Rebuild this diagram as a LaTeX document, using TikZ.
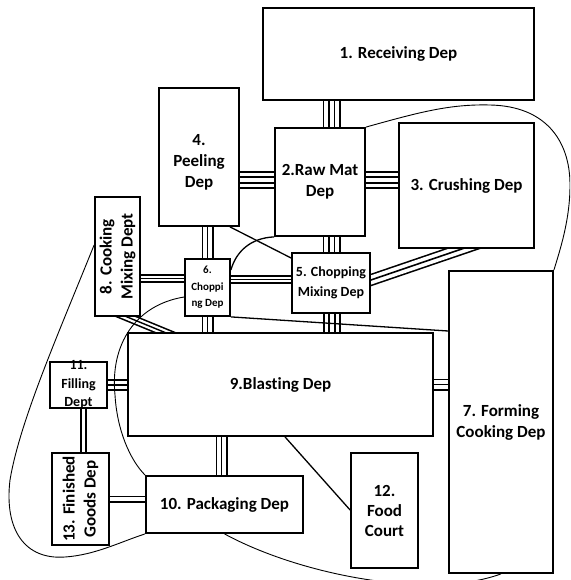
\documentclass[tikz,border=0pt]{standalone}
\usepackage{fontspec}
\setmainfont[Ligatures=NoCommon]{Carlito}
\usetikzlibrary{backgrounds,calc}

\tikzset{
  dep/.style={draw, line width=1.8pt, fill=white, inner sep=2pt, align=center,
    font=\bfseries\fontsize{17}{21}\selectfont},
  lbl/.style={inner sep=0pt, align=center, font=\bfseries\fontsize{17}{21}\selectfont},
  quadline/.style={line width=18pt, postaction={draw, white, line width=14.4pt},
    postaction={draw, black, line width=7.6pt}, postaction={draw, white, line width=4pt}},
  trioline/.style={line width=12pt, postaction={draw, white, line width=8.8pt},
    postaction={draw, black, line width=1.6pt}},
  trioslim/.style={line width=9pt, postaction={draw, white, line width=5.8pt},
    postaction={draw, black, line width=1.4pt}},
  duoline/.style={line width=7pt, postaction={draw, white, line width=3.4pt}},
  tie/.style={line width=1.3pt},
  zone/.style={line width=0.9pt}
}

\begin{document}
\begin{tikzpicture}[x=1pt, y=-1pt]
  \useasboundingbox (0,0) rectangle (570,580);
  % departments
  \node[dep, minimum width=271pt, minimum height=92pt] (recv) at (398.5,54) {1. Receiving Dep};
  \node[dep, minimum width=90pt, minimum height=108pt] (rawmat) at (320,182) {2.Raw Mat\\Dep};
  \node[dep, minimum width=135pt, minimum height=125pt] (crush) at (466.5,185.5) {3. Crushing Dep};
  \node[dep, minimum width=80pt, minimum height=138pt] (peel) at (199,157) {};
  \node[lbl] (peeltext) at ([yshift=-5pt]peel.center) {4.\\Peeling\\Dep};
  \node[dep, minimum width=78pt, minimum height=60pt, font=\bfseries\fontsize{14}{20}\selectfont]
    (chopmix) at (331,283) {5. Chopping\\Mixing Dep};
  \node[dep, minimum width=45pt, minimum height=57pt, inner sep=1pt,
    font=\bfseries\fontsize{11}{16.5}\selectfont] (chop) at (207.5,287.5) {6.\\Choppi\\ng Dep};
  \node[dep, minimum width=104pt, minimum height=302pt] (form) at (501,422) {7. Forming\\Cooking Dep};
  \node[dep, minimum width=45pt, minimum height=119pt] (cookmix) at (117.5,256.5) {};
  \node[lbl, rotate=90] (cookmixtext) at (cookmix.center) {8. Cooking\\Mixing Dept};
  \node[dep, minimum width=305pt, minimum height=103pt] (blast) at (280.5,384.5) {9.Blasting Dep};
  \node[dep, minimum width=157pt, minimum height=57pt] (pack) at (224.5,504.5) {10. Packaging Dep};
  \node[dep, minimum width=57pt, minimum height=46pt] (fill) at (78.5,385) {};
  \node[lbl, font=\bfseries\fontsize{14}{18.5}\selectfont] (filltext) at (fill.center) {11.\\Filling\\Dept};
  \node[dep, minimum width=67pt, minimum height=115pt, font=\bfseries\fontsize{17}{20}\selectfont]
    (food) at (384.5,510.5) {12.\\Food\\Court};
  \node[dep, minimum width=57pt, minimum height=92pt] (goods) at (80.5,499) {};
  \node[lbl, rotate=90] (goodstext) at (goods.center) {13. Finished\\Goods Dep};

  % ends of the slanted links, pushed into the boxes
  \coordinate (crushfoot) at (crush.south -| 462,0);
  \coordinate (chopmixside) at (chopmix.east |- 0,280);
  \coordinate (cookfoot) at (cookmix.south -| 127,0);
  \coordinate (blasttop) at (blast.north -| 164,0);

  \begin{scope}[on background layer]
    \clip (0,0) rectangle (570,580);
    % links
    \draw[quadline] (recv.south -| 331.5,0) -- (rawmat.north -| 331.5,0);
    \draw[quadline] (peel.east |- 0,180) -- (rawmat.west |- 0,180);
    \draw[quadline] (rawmat.east |- 0,180) -- (crush.west |- 0,180);
    \draw[quadline] (rawmat.south -| 331.5,0) -- (chopmix.north -| 331.5,0);
    \draw[quadline] (chopmix.south -| 332,0) -- (blast.north -| 332,0);
    \draw[trioline] (peel.south -| chop.north) -- (chop.north);
    \draw[trioline] (chop.south) -- (blast.north -| chop.south);
    \draw[trioslim] (cookmix.east |- 0,278.5) -- (chop.west |- 0,278.5);
    \draw[trioslim] (chop.east |- 0,279.5) -- (chopmix.west |- 0,279.5);
    \draw[trioline] (blast.east) -- (form.west |- blast.east);
    \draw[trioline] (fill.east) -- (blast.west |- fill.east);
    \draw[trioline] (blast.south -| 221.5,0) -- (pack.north -| 221.5,0);
    \draw[duoline] (fill.south -| 83.5,0) -- (goods.north -| 83.5,0);
    \draw[duoline] (goods.east) -- (pack.west |- goods.east);
    \draw[trioline] ($(crushfoot)!-20pt!(chopmixside)$) -- ($(chopmixside)!-20pt!(crushfoot)$);
    \draw[trioslim] ($(cookfoot)!-12pt!(blasttop)$) -- ($(blasttop)!-12pt!(cookfoot)$);
    % single lines
    \draw[tie] (peel.south -| 230,0) -- (chopmix.west |- 0,258);
    \draw[tie] (chop.east |- 0,270) .. controls (236,252) and (250,238) .. (rawmat.south west);
    \draw[tie] (chop.south east) -- (form.west |- 0,331);
    \draw[tie] (blast.south -| 285,0) -- (food.west |- 0,510);
    % zones
    \draw[zone] (rawmat.north east) .. controls (420,112) and (450,104) .. (490,105)
      .. controls (545,106) and (570,140) .. (570,185)
      .. controls (570,220) and (560,250) .. (form.north east);
    \draw[zone] (pack.south) .. controls (300,575) and (430,600) .. (form.south);
    \draw[zone] (cookmix.west |- 0,245) .. controls (60,330) and (20,420) .. (10,480)
      .. controls (4,530) and (25,560) .. (65,557)
      .. controls (95,555) and (120,542) .. (pack.south west);
    \draw[zone] (chop.west |- 0,297) .. controls (135,305) and (110,345) .. (115,395)
      .. controls (117,430) and (130,460) .. (pack.north west);
  \end{scope}
\end{tikzpicture}
\end{document}
